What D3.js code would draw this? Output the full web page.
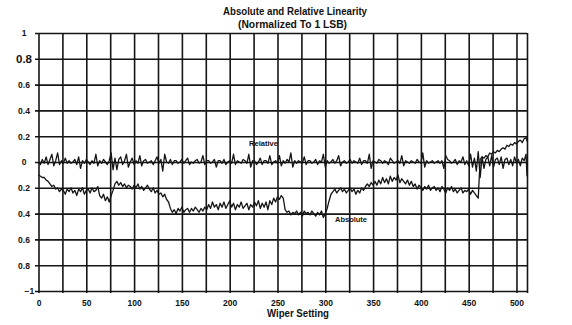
<!DOCTYPE html>
<html>
<head>
<meta charset="utf-8">
<script src="https://cdn.jsdelivr.net/npm/d3@7"></script>
<style>
  html, body { margin: 0; padding: 0; background: #fff; }
  svg { display: block; }
  text { font-family: "Liberation Sans", Arial, Helvetica, sans-serif; fill: #111; }
</style>
</head>
<body>
<svg id="chart" width="572" height="325"></svg>
<script>
// Wiper settings 0..510 step 2, plus the last code 511
const codes = d3.range(0, 511, 2).concat([511]);

// Absolute linearity error (LSB)
const absolute = [
  -0.10,-0.11,-0.12,-0.12,-0.14,-0.15,-0.17,-0.19,-0.18,-0.21,-0.20,-0.23,-0.21,-0.22,-0.25,-0.21,
  -0.23,-0.20,-0.24,-0.22,-0.26,-0.21,-0.23,-0.20,-0.25,-0.22,-0.21,-0.24,-0.20,-0.23,-0.22,-0.19,
  -0.26,-0.28,-0.25,-0.30,-0.27,-0.31,-0.26,-0.22,-0.17,-0.15,-0.18,-0.16,-0.19,-0.17,-0.20,-0.18,
  -0.19,-0.21,-0.18,-0.20,-0.17,-0.21,-0.19,-0.22,-0.20,-0.18,-0.21,-0.23,-0.20,-0.24,-0.22,-0.25,
  -0.24,-0.27,-0.25,-0.29,-0.31,-0.36,-0.39,-0.37,-0.40,-0.36,-0.38,-0.35,-0.39,-0.37,-0.36,-0.39,
  -0.36,-0.38,-0.35,-0.37,-0.39,-0.36,-0.38,-0.35,-0.37,-0.33,-0.36,-0.31,-0.35,-0.33,-0.37,-0.32,
  -0.35,-0.31,-0.36,-0.33,-0.30,-0.35,-0.32,-0.37,-0.33,-0.35,-0.31,-0.36,-0.34,-0.32,-0.37,-0.33,
  -0.35,-0.31,-0.34,-0.30,-0.36,-0.32,-0.35,-0.31,-0.37,-0.30,-0.33,-0.28,-0.31,-0.27,-0.29,-0.26,
  -0.28,-0.37,-0.39,-0.38,-0.41,-0.39,-0.40,-0.38,-0.41,-0.39,-0.42,-0.38,-0.40,-0.39,-0.41,-0.38,
  -0.40,-0.42,-0.39,-0.41,-0.38,-0.43,-0.40,-0.36,-0.30,-0.25,-0.23,-0.21,-0.24,-0.22,-0.20,-0.23,
  -0.21,-0.24,-0.22,-0.20,-0.23,-0.21,-0.25,-0.22,-0.24,-0.20,-0.22,-0.19,-0.17,-0.19,-0.16,-0.18,
  -0.15,-0.18,-0.14,-0.17,-0.12,-0.16,-0.13,-0.17,-0.11,-0.15,-0.12,-0.14,-0.10,-0.16,-0.13,-0.15,
  -0.17,-0.14,-0.18,-0.15,-0.19,-0.17,-0.21,-0.18,-0.20,-0.22,-0.19,-0.21,-0.18,-0.22,-0.20,-0.19,
  -0.22,-0.20,-0.23,-0.19,-0.21,-0.24,-0.20,-0.22,-0.19,-0.23,-0.21,-0.24,-0.22,-0.20,-0.24,-0.22,
  -0.23,-0.21,-0.25,-0.22,-0.24,-0.26,-0.28, 0.02, 0.04, 0.03, 0.05, 0.04, 0.07, 0.06, 0.08, 0.07,
   0.09, 0.08, 0.10, 0.11, 0.10, 0.13, 0.12, 0.14, 0.13, 0.15, 0.14, 0.16, 0.17, 0.15, 0.18, 0.19,
   0.16
];

// Relative linearity error (LSB)
const relative = [
   0.00,-0.02, 0.02,-0.01, 0.04,-0.02, 0.02, 0.06,-0.03, 0.01, 0.07,-0.02, 0.01,-0.01, 0.03,-0.01,
   0.01,-0.01, 0.00, 0.02,-0.02, 0.04,-0.05, 0.01,-0.01, 0.02, 0.00,-0.02, 0.01,-0.01, 0.06,-0.03,
   0.01,-0.01, 0.02, 0.00,-0.02, 0.01, 0.07,-0.06, 0.03,-0.06, 0.02, 0.04,-0.02, 0.01, 0.06,-0.04,
   0.00, 0.03,-0.02, 0.01,-0.01, 0.05,-0.03, 0.01, 0.02,-0.01, 0.00, 0.01,-0.02, 0.01, 0.04,-0.01,
   0.02,-0.07, 0.06, 0.00,-0.01, 0.02,-0.02, 0.01, 0.01,-0.01, 0.00, 0.02,-0.01, 0.01, 0.03,-0.02,
   0.00,-0.01, 0.01, 0.02,-0.01, 0.00, 0.05,-0.02, 0.01, 0.01,-0.01, 0.00, 0.02,-0.04, 0.01, 0.01,
  -0.01, 0.02,-0.02, 0.00, 0.01,-0.01, 0.06,-0.02, 0.01, 0.00,-0.01, 0.02, 0.01,-0.01, 0.06,-0.04,
   0.01, 0.01,-0.02, 0.00, 0.03,-0.02, 0.01, 0.01,-0.01, 0.05,-0.02, 0.00, 0.01,-0.01, 0.05,-0.03,
   0.01,-0.01, 0.02, 0.00, 0.07,-0.04, 0.01,-0.01, 0.01, 0.00,-0.01, 0.04,-0.02, 0.01, 0.01,-0.01,
   0.00, 0.02,-0.02, 0.01, 0.00, 0.06,-0.04, 0.01,-0.01, 0.00, 0.02,-0.01, 0.01, 0.05,-0.03, 0.00,
   0.01,-0.01, 0.00, 0.02,-0.01, 0.01, 0.00,-0.01, 0.03,-0.02, 0.01, 0.01,-0.01, 0.06,-0.05, 0.01,
   0.00,-0.01, 0.02, 0.01,-0.01, 0.01, 0.00,-0.02, 0.03, 0.01,-0.01, 0.00, 0.01,-0.01, 0.05,-0.03,
   0.01, 0.00,-0.01, 0.01, 0.00,-0.01, 0.02, 0.00,-0.01, 0.07,-0.04, 0.01,-0.01, 0.00, 0.01,-0.01,
   0.00, 0.01,-0.01, 0.01,-0.05, 0.05, 0.02, 0.01,-0.01, 0.00, 0.02,-0.02, 0.01, 0.00, 0.04,-0.02,
   0.01,-0.03, 0.06,-0.04, 0.03,-0.07, 0.08,-0.12, 0.04,-0.05, 0.02, 0.04,-0.03, 0.05,-0.04, 0.02,
   0.03,-0.02, 0.04,-0.05, 0.02, 0.03,-0.02, 0.02,-0.03, 0.04,-0.01, 0.02,-0.03, 0.03, 0.01, 0.06,
  -0.11
];

// Axis ticks and labels
const xGridTicks = d3.range(0, 501, 25);
const xLabelTicks = [0, 50, 100, 150, 200, 250, 300, 350, 400, 450, 500];
const yTicks = [-1, -0.8, -0.6, -0.4, -0.2, 0, 0.2, 0.4, 0.6, 0.8, 1];
const yTickLabels = ["\u22121", "0.8", "0.6", "0.4", "0.2", "0", "0.2", "0.4", "0.6", "0.8", "1"];

const titleLines = ["Absolute and Relative Linearity", "(Normalized To 1 LSB)"];
const xTitle = "Wiper Setting";
const seriesLabels = { relative: "Relative", absolute: "Absolute" };

const svg = d3.select("#chart");
const plotL = 38.5, plotR = 527, plotT = 33, plotB = 291;

const x = d3.scaleLinear().domain([0, 511]).range([plotL, plotR]);
const y = d3.scaleLinear().domain([-1, 1]).range([plotB, plotT]);

const ink = "#151515";

// Vertical grid lines drawn as extended bottom-axis ticks
const xGrid = svg.append("g")
  .attr("transform", `translate(0,${plotB + 2})`)
  .call(d3.axisBottom(x).tickValues(xGridTicks.concat([511])).tickSize(-(plotB - plotT + 2)).tickFormat(""));
xGrid.select(".domain").remove();
xGrid.selectAll(".tick line").attr("stroke", ink).attr("stroke-width", 1.6);

// Horizontal grid lines drawn as extended left-axis ticks
const yGrid = svg.append("g")
  .attr("transform", `translate(${plotL - 3.5},0)`)
  .call(d3.axisLeft(y).tickValues(yTicks).tickSize(-(plotR - plotL + 3.5)).tickFormat(""));
yGrid.select(".domain").remove();
yGrid.selectAll(".tick line").attr("stroke", ink).attr("stroke-width", 1.6);

// X tick labels
const xAxis = svg.append("g")
  .attr("transform", `translate(0,${plotB})`)
  .call(d3.axisBottom(x).tickValues(xLabelTicks).tickSize(0).tickPadding(9).tickFormat(d3.format("d")));
xAxis.select(".domain").remove();
xAxis.selectAll(".tick text")
  .style("font-size", "8.5px").style("font-weight", "bold")
  .style("font-family", "'Liberation Sans', Arial, sans-serif").attr("fill", ink);

// Y tick labels
const yAxis = svg.append("g")
  .attr("transform", `translate(24,0)`)
  .call(d3.axisLeft(y).tickValues(yTicks).tickSize(0).tickPadding(0)
    .tickFormat((d, i) => yTickLabels[i]));
yAxis.select(".domain").remove();
yAxis.selectAll(".tick text")
  .attr("text-anchor", (d) => d === -1 ? "start" : "middle")
  .attr("x", (d) => d === -1 ? 0.5 : 0)
  .attr("dy", "0.34em")
  .style("font-size", (d) => d === 0.8 ? "11.5px" : "8.5px")
  .style("font-weight", "bold")
  .style("font-family", "'Liberation Sans', Arial, sans-serif").attr("fill", ink);

// Series lines
const line = (vals) => d3.line()
  .x((d, i) => x(codes[i]))
  .y((d) => y(d))(vals);

svg.append("path")
  .attr("d", line(relative))
  .attr("fill", "none").attr("stroke", ink).attr("stroke-width", 1.3)
  .attr("stroke-linejoin", "round");

svg.append("path")
  .attr("d", line(absolute))
  .attr("fill", "none").attr("stroke", ink).attr("stroke-width", 1.3)
  .attr("stroke-linejoin", "round");

// Series labels
svg.append("text").text(seriesLabels.relative)
  .attr("x", 249).attr("y", 146)
  .attr("textLength", 29).attr("lengthAdjust", "spacingAndGlyphs")
  .style("font-size", "7.5px").style("font-weight", "bold");
svg.append("text").text(seriesLabels.absolute)
  .attr("x", 335).attr("y", 221.5)
  .attr("textLength", 32).attr("lengthAdjust", "spacingAndGlyphs")
  .style("font-size", "7.5px").style("font-weight", "bold");

// Titles
svg.append("text").text(titleLines[0])
  .attr("x", 223).attr("y", 14.5)
  .attr("textLength", 144).attr("lengthAdjust", "spacingAndGlyphs")
  .style("font-size", "10px").style("font-weight", "bold");
svg.append("text").text(titleLines[1])
  .attr("x", 238).attr("y", 27.5)
  .attr("textLength", 109).attr("lengthAdjust", "spacingAndGlyphs")
  .style("font-size", "10px").style("font-weight", "bold");
svg.append("text").text(xTitle)
  .attr("x", 267).attr("y", 316.5)
  .attr("textLength", 62).attr("lengthAdjust", "spacingAndGlyphs")
  .style("font-size", "11.5px").style("font-weight", "bold");
</script>
</body>
</html>
